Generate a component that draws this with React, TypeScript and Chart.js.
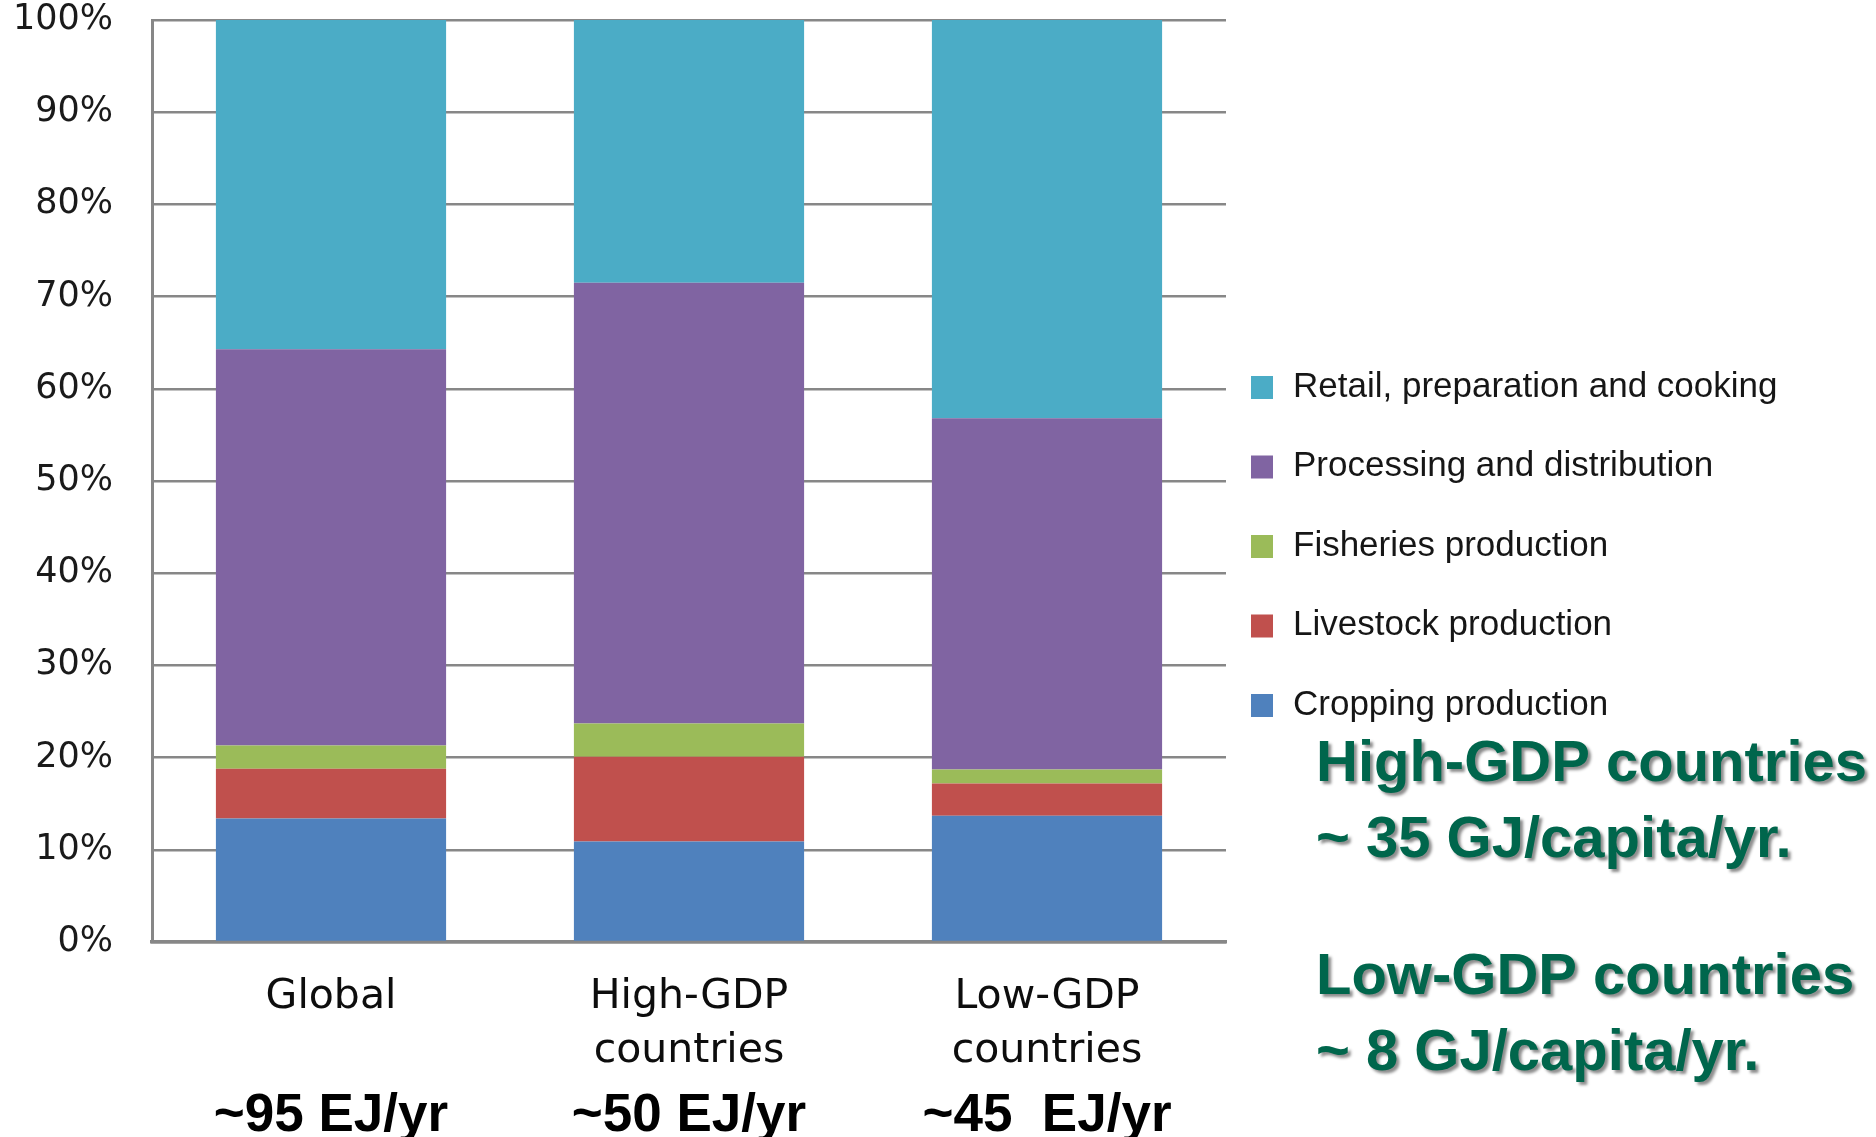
import React, { useEffect, useRef } from 'react';
import { Chart, registerables } from 'chart.js';

Chart.register(...registerables);

// Regions and their total food-system energy use
const categories: string[][] = [['Global'], ['High-GDP', 'countries'], ['Low-GDP', 'countries']];
const energyTotals: string[] = ['~95 EJ/yr', '~50 EJ/yr', '~45  EJ/yr'];

// Share of energy use by stage (%)
const cropping: number[] = [13.4, 10.9, 13.7];
const livestock: number[] = [5.4, 9.2, 3.5];
const fisheries: number[] = [2.5, 3.6, 1.5];
const processing: number[] = [43.0, 47.8, 38.1];
const retail: number[] = [35.7, 28.5, 43.2];

const seriesNames: string[] = [
  'Cropping production',
  'Livestock production',
  'Fisheries production',
  'Processing and distribution',
  'Retail, preparation and cooking',
];
const seriesColors: string[] = ['#4F81BD', '#C0504D', '#9BBB59', '#8064A2', '#4BACC6'];

// Per-capita notes shown beside the chart
const highGdpNote: string[] = ['High-GDP countries', '~ 35 GJ/capita/yr.'];
const lowGdpNote: string[] = ['Low-GDP countries', '~ 8 GJ/capita/yr.'];

const GRID = '#878787';

// Legend on the right plus the per-capita notes underneath it
const sideLegend = {
  id: 'sideLegend',
  afterDraw(chart: any) {
    const { ctx, chartArea } = chart;
    const items = chart.data.datasets
      .map((d: any) => ({ label: d.label as string, color: d.backgroundColor as string }))
      .reverse();
    ctx.save();
    ctx.textBaseline = 'middle';
    ctx.textAlign = 'left';
    ctx.font = '35px "Liberation Sans", Arial, sans-serif';
    const boxX = chartArea.right + 25;
    const textX = chartArea.right + 67;
    items.forEach((it: any, i: number) => {
      const cy = 387 + i * 79.5;
      ctx.fillStyle = it.color;
      ctx.fillRect(boxX, cy - 11, 22, 23);
      ctx.fillStyle = '#161616';
      ctx.fillText(it.label, textX, cy);
    });

    ctx.font = 'bold 58px "Liberation Sans", Arial, sans-serif';
    ctx.fillStyle = '#00664C';
    ctx.shadowColor = 'rgba(0,0,0,0.45)';
    ctx.shadowOffsetX = 3;
    ctx.shadowOffsetY = 3;
    ctx.shadowBlur = 3;
    const noteX = chartArea.right + 90;
    const lineStep = 76;
    [highGdpNote, lowGdpNote].forEach((group, g) => {
      group.forEach((line, j) => {
        ctx.fillText(line, noteX, 765 + g * 213 + j * lineStep);
      });
    });
    ctx.restore();
  },
};

export default function App() {
  const canvasRef = useRef<HTMLCanvasElement | null>(null);

  useEffect(() => {
    const canvas = canvasRef.current;
    if (!canvas) return;
    const series = [cropping, livestock, fisheries, processing, retail];
    const chart = new Chart(canvas, {
      type: 'bar',
      data: {
        labels: categories,
        datasets: series.map((values, i) => ({
          label: seriesNames[i],
          data: values,
          backgroundColor: seriesColors[i],
          borderWidth: 0,
          categoryPercentage: 1,
          barPercentage: 0.643,
        })),
      },
      options: {
        responsive: false,
        animation: false,
        layout: { padding: { top: 20, right: 650, bottom: 0, left: 0 } },
        plugins: {
          legend: { display: false },
          tooltip: { enabled: false },
        },
        scales: {
          x: {
            type: 'category',
            stacked: true,
            offset: true,
            weight: 0,
            grid: { display: false },
            border: { display: true, color: GRID, width: 3.5 },
            ticks: {
              color: '#0d0d0d',
              font: { family: '"DejaVu Sans", Verdana, sans-serif', size: 41, lineHeight: 1.32 },
              padding: 20,
              maxRotation: 0,
              autoSkip: false,
            },
            afterFit: (s: any) => {
              s.height = 133;
              s.paddingLeft = 0;
              s.paddingRight = 0;
            },
          },
          x2: {
            type: 'category',
            labels: energyTotals,
            position: 'bottom',
            offset: true,
            weight: 1,
            grid: { display: false },
            border: { display: false },
            ticks: {
              color: '#000',
              font: { family: '"Liberation Sans", Arial, sans-serif', size: 53, weight: 'bold', lineHeight: 1.2 },
              padding: 2,
              maxRotation: 0,
              autoSkip: false,
            },
            afterFit: (s: any) => {
              s.height = 62;
              s.paddingLeft = 0;
              s.paddingRight = 0;
            },
          },
          y: {
            stacked: true,
            min: 0,
            max: 100,
            grid: { color: GRID, lineWidth: 2.5, drawTicks: false },
            border: { display: true, color: GRID, width: 3 },
            ticks: {
              stepSize: 10,
              color: '#1a1a1a',
              padding: 39,
              font: { family: '"DejaVu Sans", Verdana, sans-serif', size: 35 },
              callback: (v: any) => `${v}%`,
            },
            afterFit: (s: any) => {
              s.width = 152;
              s.paddingTop = 0;
              s.paddingBottom = 0;
            },
          },
        },
      },
      plugins: [sideLegend],
    });
    return () => chart.destroy();
  }, []);

  return (
    <div style={{ position: 'absolute', left: 0, top: 0, width: 1876, height: 1137, background: '#fff' }}>
      <canvas ref={canvasRef} width={1876} height={1137} style={{ display: 'block' }} />
    </div>
  );
}
